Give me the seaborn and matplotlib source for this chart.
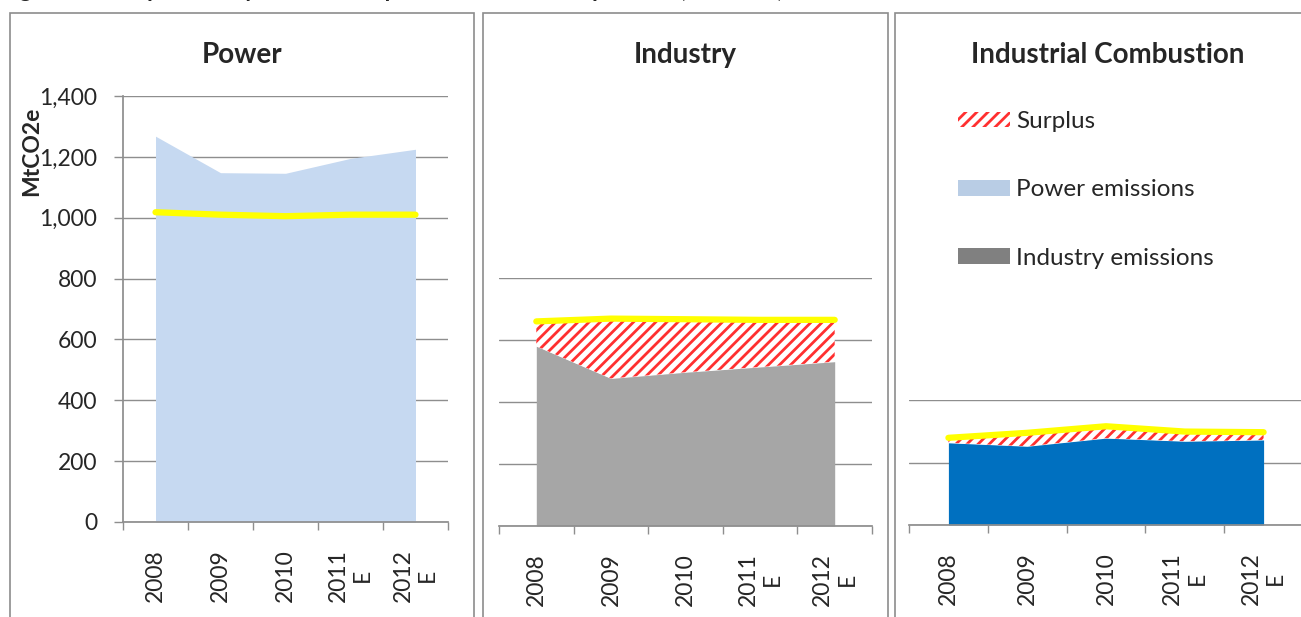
import matplotlib
matplotlib.use("Agg")
import matplotlib.pyplot as plt
from matplotlib.patches import Patch, Rectangle
from matplotlib.ticker import FuncFormatter
import seaborn as sns

# data (MtCO2e)
years = ["2008", "2009", "2010", "2011\nE", "2012\nE"]

power_emissions = [1268, 1148, 1146, 1195, 1225]
power_cap = [1018, 1010, 1005, 1010, 1010]

industry_emissions = [580, 476, 496, 513, 530]
industry_surplus = [78, 192, 170, 151, 134]
industry_cap = [660, 669, 667, 665, 665]

combustion_emissions = [263, 252, 278, 268, 272]
combustion_surplus = [14, 40, 36, 29, 24]
combustion_cap = [279, 295, 316, 299, 297]

sns.set_theme(style="white")
plt.rcParams["font.family"] = ["Lato", "DejaVu Sans"]
plt.rcParams["hatch.linewidth"] = 2.0

W, H = 1301, 617
fig = plt.figure(figsize=(W / 100, H / 100), dpi=100)

GRID = "#8E8E8E"
HATCH = "#FF3030"
TICK_FS = 16.5


def px_axes(l, t, r, b):
    return fig.add_axes([l / W, 1 - b / H, (r - l) / W, (b - t) / H])


# chart borders (the Excel chart boxes)
for l, r in [(10, 474), (483, 888), (895, 1330)]:
    fig.add_artist(Rectangle((l / W, -0.2), (r - l) / W, 1.2 - 13 / H,
                             transform=fig.transFigure, fill=False,
                             edgecolor="#8C8C8C", lw=1.2, clip_on=False))


def style_axes(ax, ymax, step, show_y):
    x = list(range(len(years)))
    ax.set_xlim(-0.5, len(years) - 0.5)
    ax.set_ylim(0, ymax)
    ax.set_yticks(range(0, ymax + 1, step))
    ax.grid(axis="y", color=GRID, lw=1)
    ax.grid(axis="x", visible=False)
    ax.set_axisbelow(True)
    for s in ["top", "right"]:
        ax.spines[s].set_visible(False)
    ax.spines["bottom"].set_color(GRID)
    ax.spines["left"].set_color(GRID)
    ax.spines["left"].set_visible(show_y)
    # tick marks at category boundaries, labels at centres
    ax.set_xticks([i - 0.5 for i in range(len(years) + 1)])
    ax.set_xticklabels([])
    ax.set_xticks(x, minor=True)
    ax.set_xticklabels(years, minor=True, rotation=90, fontsize=TICK_FS,
                       ha="center", va="top", multialignment="center")
    ax.tick_params(axis="x", which="major", direction="out", length=5.8,
                   width=1, color=GRID, bottom=True)
    ax.tick_params(axis="x", which="minor", length=0, pad=19.5, bottom=True)
    if show_y:
        ax.yaxis.set_major_formatter(FuncFormatter(lambda v, p: f"{int(v):,}"))
        ax.tick_params(axis="y", direction="out", length=6.5, width=1,
                       color=GRID, pad=12, labelsize=TICK_FS, left=True)
    else:
        ax.tick_params(axis="y", left=False, labelleft=False)
    return x


# Power
ax1 = px_axes(123, 96, 448, 522)
x = style_axes(ax1, 1400, 200, True)
ax1.fill_between(x, 0, power_emissions, color="#C6D9F1", lw=0, zorder=2)
sns.lineplot(x=x, y=power_cap, ax=ax1, color="#FFFF00", lw=4.5,
             solid_capstyle="round", zorder=3)
ax1.set_xlim(-0.5, 4.5)
fig.text(32 / W, 1 - 151 / H, "MtCO2e", rotation=90, ha="center", va="center",
         fontsize=16.5, fontweight="bold")

# Industry
ax2 = px_axes(499, 278, 872, 526)
x = style_axes(ax2, 800, 200, False)
top2 = [e + s for e, s in zip(industry_emissions, industry_surplus)]
ax2.fill_between(x, 0, industry_emissions, color="#A6A6A6", lw=0, zorder=2)
ax2.fill_between(x, industry_emissions, top2, facecolor="white",
                 edgecolor=HATCH, hatch="///", lw=0, zorder=2)
sns.lineplot(x=x, y=industry_cap, ax=ax2, color="#FFFF00", lw=4.5,
             solid_capstyle="round", zorder=3)
ax2.set_xlim(-0.5, 4.5)

# Industrial Combustion
ax3 = px_axes(909, 400, 1303, 525)
x = style_axes(ax3, 400, 200, False)
top3 = [e + s for e, s in zip(combustion_emissions, combustion_surplus)]
ax3.fill_between(x, 0, combustion_emissions, color="#0070C0", lw=0, zorder=2)
ax3.fill_between(x, combustion_emissions, top3, facecolor="white",
                 edgecolor=HATCH, hatch="///", lw=0, zorder=2)
sns.lineplot(x=x, y=combustion_cap, ax=ax3, color="#FFFF00", lw=4.5,
             solid_capstyle="round", zorder=3)
ax3.set_xlim(-0.5, 4.5)

# panel titles
for cx, title in [(242, "Power"), (685, "Industry"), (1108, "Industrial Combustion")]:
    fig.text(cx / W, 1 - 63 / H, title, ha="center", va="baseline",
             fontsize=20, fontweight="bold")

# figure caption, cut off at the top edge as in the source image
fig.text(0.0, 1 + 3 / H,
         "Figure 1: Comparison by sector of caps and emissions in phase II (2008-12)",
         ha="left", va="baseline", fontsize=17, fontweight="bold")

handles = [Patch(facecolor="white", edgecolor=HATCH, hatch="///", lw=0),
           Patch(facecolor="#B9CDE5", lw=0),
           Patch(facecolor="#808080", lw=0)]
fig.legend(handles, ["Surplus", "Power emissions", "Industry emissions"],
           loc="upper left", bbox_to_anchor=(958 / W, 1 - 111 / H),
           frameon=False, fontsize=17.5, labelspacing=1.95,
           handlelength=2.15, handleheight=0.62, handletextpad=0.25,
           borderpad=0, borderaxespad=0)

fig.savefig("out.png", dpi=100)
